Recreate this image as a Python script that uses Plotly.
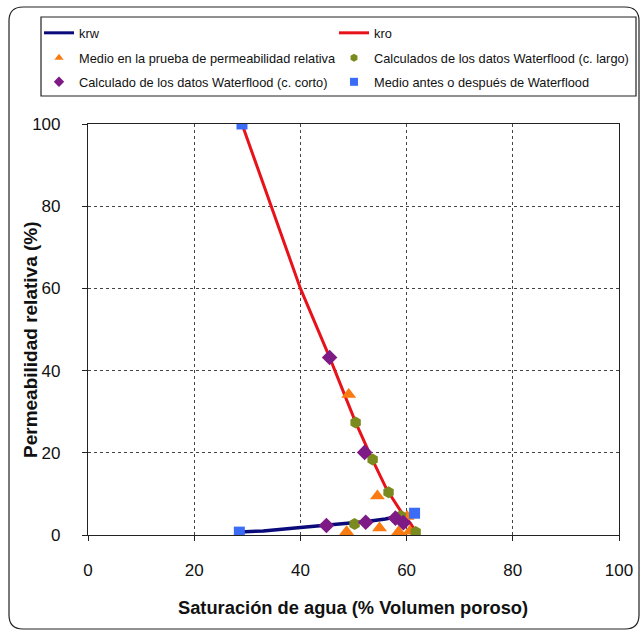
import plotly.graph_objects as go

# Relative permeability curves (water saturation in % pore volume)
krw_x = [28.5, 33.0, 40.0, 45.0, 50.0, 52.5, 56.0, 58.3]
krw_y = [0.7, 1.0, 1.8, 2.4, 2.9, 3.3, 3.9, 4.5]

kro_x = [29.0, 34.5, 40.0, 45.5, 50.4, 53.6, 56.3, 58.9, 60.8, 61.7]
kro_y = [100.0, 80.0, 60.0, 43.2, 27.4, 18.2, 11.0, 5.8, 2.7, 0.8]

# Measured in the relative permeability test
rp_test_x = [49.1, 54.5, 48.7, 54.9, 58.5, 60.1, 60.6]
rp_test_y = [34.2, 9.5, 0.8, 1.7, 0.8, 4.5, 0.9]

# Calculated from waterflood data (long core)
wf_long_x = [50.4, 53.6, 56.6, 50.2, 58.9, 61.7]
wf_long_y = [27.4, 18.4, 10.4, 2.7, 4.6, 0.7]

# Calculated from waterflood data (short core)
wf_short_x = [45.5, 52.1, 44.9, 52.3, 57.9, 59.4]
wf_short_y = [43.2, 20.1, 2.3, 3.1, 4.1, 3.0]

# Measured before or after waterflood
pre_post_x = [29.0, 28.5, 61.5]
pre_post_y = [100.0, 0.7, 5.3]

x_ticks = [0, 20, 40, 60, 80, 100]
y_ticks = [0, 20, 40, 60, 80, 100]

x_title = "Saturación de agua (% Volumen poroso)"
y_title = "Permeabilidad relativa (%)"

W, H = 641, 631
ML, MR, MT, MB = 88, 22, 124, 96
PW, PH = W - ML - MR, H - MT - MB


def px(xp):
    return (xp - ML) / PW


def py(yp):
    return (H - MB - yp) / PH


FONT = "Liberation Sans, Arial, sans-serif"

NAVY, RED = "#0A0A7A", "#E8121A"
ORANGE, OLIVE, PURPLE, BLUE = "#FA7A12", "#7A8A1E", "#7E1A86", "#3A6CF5"

series = [
    dict(name="krw", x=krw_x, y=krw_y, mode="lines",
         line=dict(color=NAVY, width=3.5), leg_line=dict(color=NAVY, width=3)),
    dict(name="kro", x=kro_x, y=kro_y, mode="lines",
         line=dict(color=RED, width=3), leg_line=dict(color=RED, width=3)),
    dict(name="Medio en la prueba de permeabilidad relativa", x=rp_test_x, y=rp_test_y,
         mode="markers", marker=dict(symbol="triangle-up", size=13, color=ORANGE)),
    dict(name="Calculados de los datos Waterflood (c. largo)", x=wf_long_x, y=wf_long_y,
         mode="markers", marker=dict(symbol="hexagon", size=12, color=OLIVE)),
    dict(name="Calculado de los datos Waterflood (c. corto)", x=wf_short_x, y=wf_short_y,
         mode="markers", marker=dict(symbol="diamond", size=12, color=PURPLE)),
    dict(name="Medio antes o después de Waterflood", x=pre_post_x, y=pre_post_y,
         mode="markers", marker=dict(symbol="square", size=11, color=BLUE)),
]

fig = go.Figure()

# Plotted data
for s in series:
    kw = dict(line=s["line"]) if s["mode"] == "lines" else dict(marker=s["marker"])
    fig.add_trace(go.Scatter(x=s["x"], y=s["y"], mode=s["mode"], name=s["name"],
                             showlegend=False, **kw))

# Legend entries: two columns, three rows, each placed on its own legend
legend_rows = [33, 58, 82]
legend_cols = [39, 334]
legends = {}
for i, s in enumerate(series):
    lid = "legend" if i == 0 else f"legend{i + 1}"
    if s["mode"] == "lines":
        kw = dict(line=s["leg_line"])
    else:
        m = dict(s["marker"])
        m["size"] = 8
        kw = dict(marker=m)
    fig.add_trace(go.Scatter(x=[None], y=[None], mode=s["mode"], name=s["name"],
                             legend=lid, showlegend=True, hoverinfo="skip", **kw))
    legends[lid] = dict(orientation="h", xanchor="left", yanchor="middle",
                        x=px(legend_cols[i % 2]), y=py(legend_rows[i // 2]),
                        bgcolor="rgba(0,0,0,0)", borderwidth=0,
                        font=dict(family=FONT, size=12.8, color="#111"))

# Outer rounded frame
x0, x1 = px(9), px(639)
y0, y1 = py(629), py(7)
rx, ry = 14 / PW, 14 / PH
frame_path = (f"M {x0+rx},{y1} L {x1-rx},{y1} Q {x1},{y1} {x1},{y1-ry} "
              f"L {x1},{y0+ry} Q {x1},{y0} {x1-rx},{y0} L {x0+rx},{y0} "
              f"Q {x0},{y0} {x0},{y0+ry} L {x0},{y1-ry} Q {x0},{y1} {x0+rx},{y1} Z")

fig.update_layout(
    width=W, height=H,
    margin=dict(l=ML, r=MR, t=MT, b=MB, autoexpand=False),
    paper_bgcolor="white", plot_bgcolor="white",
    showlegend=True,
    shapes=[
        dict(type="path", xref="paper", yref="paper", path=frame_path,
             line=dict(color="#222", width=1.2), layer="below"),
        dict(type="rect", xref="paper", yref="paper",
             x0=px(41), x1=px(636), y0=py(96), y1=py(17),
             line=dict(color="#222", width=1.2), layer="below"),
    ],
    annotations=[
        dict(text=f"<b>{x_title}</b>", xref="paper", yref="paper",
             x=px(353), y=py(607), xanchor="center", yanchor="middle",
             showarrow=False, font=dict(family=FONT, size=18.3, color="#111")),
        dict(text=f"<b>{y_title}</b>", xref="paper", yref="paper",
             x=px(30), y=py(340), xanchor="center", yanchor="middle",
             textangle=-90, showarrow=False,
             font=dict(family=FONT, size=19, color="#111")),
    ],
    xaxis=dict(range=[0, 100], tickvals=x_ticks, ticks="outside", ticklen=5,
               tickcolor="#222", ticklabelstandoff=14, automargin=False,
               showline=True, linecolor="#222", linewidth=1.2, mirror=True,
               showgrid=True, gridcolor="#444", gridwidth=1, griddash="3px,3px",
               zeroline=False,
               tickfont=dict(family=FONT, size=17, color="#111")),
    yaxis=dict(range=[0, 100], tickvals=y_ticks, ticks="outside", ticklen=5,
               tickcolor="#222", ticklabelstandoff=18, automargin=False,
               showline=True, linecolor="#222", linewidth=1.2, mirror=True,
               showgrid=True, gridcolor="#444", gridwidth=1, griddash="3px,3px",
               zeroline=False,
               tickfont=dict(family=FONT, size=17, color="#111")),
    **legends,
)

fig.write_html("out.html")
